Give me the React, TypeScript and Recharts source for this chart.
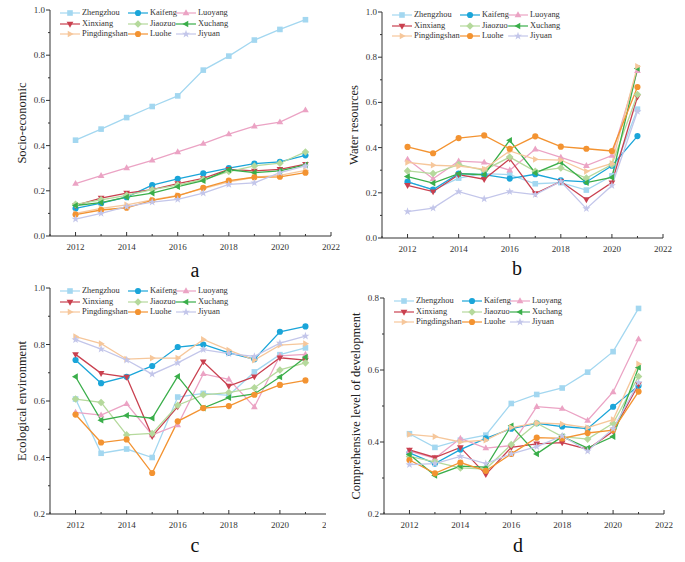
import React from 'react';
import { LineChart, Line, XAxis, YAxis } from 'recharts';

const years = [2012, 2013, 2014, 2015, 2016, 2017, 2018, 2019, 2020, 2021];
const cities = ['Zhengzhou', 'Kaifeng', 'Luoyang', 'Xinxiang', 'Jiaozuo', 'Xuchang', 'Pingdingshan', 'Luohe', 'Jiyuan'];
const cityColors = ['#a3d7f0', '#1aa5d9', '#eba3c4', '#c9404f', '#b5d99c', '#3aae4a', '#f6c79b', '#f39331', '#c3c6ea'];
const cityShapes = ['square', 'circle', 'triangle', 'triangleDown', 'diamond', 'triangleLeft', 'triangleRight', 'circle', 'star'];

const xTicks = [2011, 2012, 2013, 2014, 2015, 2016, 2017, 2018, 2019, 2020, 2021, 2022];
const yTicksFull = [0, 0.1, 0.2, 0.3, 0.4, 0.5, 0.6, 0.7, 0.8, 0.9, 1.0];
const yTicksEco = [0.2, 0.3, 0.4, 0.5, 0.6, 0.7, 0.8, 0.9, 1.0];
const yTicksComp = [0.2, 0.3, 0.4, 0.5, 0.6, 0.7, 0.8];

// rows follow the order of `cities`
const socioEconomic = [
  [0.424, 0.473, 0.524, 0.573, 0.620, 0.734, 0.796, 0.867, 0.914, 0.957],
  [0.122, 0.145, 0.172, 0.225, 0.253, 0.277, 0.300, 0.320, 0.328, 0.357],
  [0.232, 0.267, 0.301, 0.335, 0.372, 0.409, 0.451, 0.486, 0.504, 0.557],
  [0.135, 0.168, 0.190, 0.205, 0.232, 0.255, 0.295, 0.288, 0.295, 0.318],
  [0.140, 0.160, 0.180, 0.205, 0.225, 0.250, 0.285, 0.310, 0.322, 0.372],
  [0.135, 0.148, 0.172, 0.190, 0.218, 0.245, 0.293, 0.280, 0.288, 0.315],
  [0.100, 0.122, 0.138, 0.160, 0.180, 0.210, 0.240, 0.260, 0.268, 0.290],
  [0.095, 0.115, 0.125, 0.158, 0.178, 0.213, 0.245, 0.260, 0.262, 0.280],
  [0.075, 0.100, 0.130, 0.150, 0.162, 0.190, 0.228, 0.235, 0.280, 0.310],
];

const waterResources = [
  [0.250, 0.212, 0.265, 0.285, 0.280, 0.240, 0.245, 0.212, 0.275, 0.570],
  [0.248, 0.214, 0.285, 0.280, 0.263, 0.282, 0.255, 0.248, 0.320, 0.451],
  [0.348, 0.262, 0.340, 0.335, 0.300, 0.393, 0.357, 0.320, 0.365, 0.740],
  [0.233, 0.205, 0.280, 0.260, 0.350, 0.197, 0.250, 0.170, 0.245, 0.625],
  [0.297, 0.285, 0.325, 0.300, 0.358, 0.295, 0.310, 0.265, 0.325, 0.635],
  [0.272, 0.243, 0.285, 0.280, 0.432, 0.288, 0.335, 0.245, 0.268, 0.750],
  [0.335, 0.322, 0.318, 0.305, 0.385, 0.348, 0.345, 0.295, 0.330, 0.760],
  [0.403, 0.375, 0.442, 0.454, 0.395, 0.450, 0.404, 0.395, 0.385, 0.668],
  [0.117, 0.132, 0.205, 0.173, 0.205, 0.192, 0.250, 0.130, 0.232, 0.560],
];

const ecologicalEnvironment = [
  [0.607, 0.415, 0.430, 0.400, 0.614, 0.627, 0.620, 0.703, 0.764, 0.788],
  [0.745, 0.663, 0.686, 0.724, 0.791, 0.800, 0.770, 0.748, 0.845, 0.864],
  [0.560, 0.550, 0.590, 0.480, 0.515, 0.696, 0.677, 0.579, 0.760, 0.765],
  [0.765, 0.698, 0.685, 0.475, 0.580, 0.739, 0.653, 0.686, 0.753, 0.745],
  [0.607, 0.595, 0.480, 0.485, 0.585, 0.622, 0.630, 0.647, 0.710, 0.735],
  [0.686, 0.532, 0.549, 0.539, 0.687, 0.575, 0.612, 0.625, 0.685, 0.755],
  [0.828, 0.803, 0.748, 0.752, 0.752, 0.818, 0.780, 0.745, 0.798, 0.803],
  [0.552, 0.453, 0.464, 0.345, 0.528, 0.575, 0.582, 0.622, 0.657, 0.673],
  [0.817, 0.784, 0.745, 0.695, 0.735, 0.782, 0.768, 0.758, 0.805, 0.830],
];

const comprehensiveLevel = [
  [0.423, 0.385, 0.405, 0.419, 0.507, 0.532, 0.550, 0.594, 0.651, 0.771],
  [0.370, 0.340, 0.379, 0.410, 0.437, 0.452, 0.443, 0.437, 0.498, 0.556],
  [0.375, 0.355, 0.410, 0.383, 0.390, 0.498, 0.493, 0.460, 0.539, 0.686],
  [0.378, 0.357, 0.385, 0.310, 0.385, 0.395, 0.398, 0.380, 0.430, 0.560],
  [0.360, 0.345, 0.328, 0.325, 0.393, 0.452, 0.415, 0.408, 0.452, 0.582],
  [0.365, 0.307, 0.333, 0.330, 0.445, 0.367, 0.415, 0.383, 0.415, 0.607],
  [0.421, 0.415, 0.400, 0.405, 0.440, 0.453, 0.450, 0.440, 0.462, 0.617],
  [0.350, 0.313, 0.343, 0.320, 0.367, 0.412, 0.410, 0.425, 0.433, 0.540],
  [0.337, 0.340, 0.360, 0.340, 0.367, 0.387, 0.417, 0.375, 0.437, 0.565],
];

const FONT = '"Liberation Serif", "Times New Roman", serif';
const AXIS = '#333';

function Marker({ shape, cx, cy, color, s = 2.8 }: any) {
  if (cx == null || cy == null) return null;
  const pts = (arr: number[][]) => arr.map(([dx, dy]) => `${cx + dx * s},${cy + dy * s}`).join(' ');
  switch (shape) {
    case 'square':
      return <rect x={cx - s} y={cy - s} width={2 * s} height={2 * s} fill={color} />;
    case 'circle':
      return <circle cx={cx} cy={cy} r={s * 1.1} fill={color} />;
    case 'triangle':
      return <polygon points={pts([[0, -1.3], [1.2, 0.8], [-1.2, 0.8]])} fill={color} />;
    case 'triangleDown':
      return <polygon points={pts([[0, 1.3], [1.2, -0.8], [-1.2, -0.8]])} fill={color} />;
    case 'diamond':
      return <polygon points={pts([[0, -1.35], [1.35, 0], [0, 1.35], [-1.35, 0]])} fill={color} />;
    case 'triangleLeft':
      return <polygon points={pts([[-1.3, 0], [0.8, -1.2], [0.8, 1.2]])} fill={color} />;
    case 'triangleRight':
      return <polygon points={pts([[1.3, 0], [-0.8, -1.2], [-0.8, 1.2]])} fill={color} />;
    case 'star': {
      const p: number[][] = [];
      for (let i = 0; i < 10; i++) {
        const r = i % 2 === 0 ? 1.5 : 0.6;
        const a = -Math.PI / 2 + (i * Math.PI) / 5;
        p.push([r * Math.cos(a), r * Math.sin(a)]);
      }
      return <polygon points={pts(p)} fill={color} />;
    }
    default:
      return null;
  }
}

const XTick = ({ x, y, payload }: any) => {
  const v = payload.value;
  const major = v % 2 === 0;
  return (
    <g>
      <line x1={x} x2={x} y1={y} y2={y - (major ? 4 : 2)} stroke={AXIS} />
      {major && (
        <text x={x} y={y + 14} textAnchor="middle" fontSize={9} fill={AXIS} fontFamily={FONT}>
          {v}
        </text>
      )}
    </g>
  );
};

const YTick = ({ x, y, payload }: any) => {
  const v = payload.value;
  const major = Math.round(v * 10) % 2 === 0;
  return (
    <g>
      <line x1={x} x2={x - (major ? 4 : 2)} y1={y} y2={y} stroke={AXIS} />
      {major && (
        <text x={x - 5} y={y + 3} textAnchor="end" fontSize={9} fill={AXIS} fontFamily={FONT}>
          {v.toFixed(1)}
        </text>
      )}
    </g>
  );
};

function CityLegend({ left, top }: { left: number; top: number }) {
  const cols = [10, 78, 126];
  return (
    <div style={{ position: 'absolute', left, top, pointerEvents: 'none' }}>
      {cities.map((c, i) => {
        const col = i % 3;
        const row = Math.floor(i / 3);
        return (
          <div
            key={c}
            style={{
              position: 'absolute',
              left: cols[col],
              top: row * 10.5 - 5,
              height: 10,
              display: 'flex',
              alignItems: 'center',
              whiteSpace: 'nowrap',
            }}
          >
            <svg width={20} height={10} style={{ display: 'block' }}>
              <line x1={0} x2={20} y1={5} y2={5} stroke={cityColors[i]} strokeWidth={1.2} />
              <Marker shape={cityShapes[i]} cx={10} cy={5} color={cityColors[i]} />
            </svg>
            <span style={{ fontSize: 8.4, color: '#333', fontFamily: FONT, marginLeft: 2, lineHeight: '10px' }}>{c}</span>
          </div>
        );
      })}
    </div>
  );
}

function Panel({ left, top, width, height, clipWidth, margin, domain, yTicks, yLabel, values }: any) {
  const rows = years.map((yr, i) => {
    const r: any = { year: yr };
    cities.forEach((c, k) => {
      r[c] = values[k][i];
    });
    return r;
  });
  return (
    <div style={{ position: 'absolute', left, top, width: clipWidth ?? width, height, overflow: 'hidden' }}>
      <LineChart width={width} height={height} data={rows} margin={{ ...margin, left: 0 }}>
        <XAxis
          dataKey="year"
          type="number"
          domain={[2011, 2022]}
          ticks={xTicks}
          interval={0}
          height={22}
          tickSize={0}
          tickMargin={0}
          tickLine={false}
          tick={<XTick />}
          axisLine={{ stroke: AXIS }}
        />
        <YAxis
          type="number"
          domain={domain}
          ticks={yTicks}
          interval={0}
          width={50}
          tickSize={0}
          tickMargin={0}
          tickLine={false}
          tick={<YTick />}
          axisLine={{ stroke: AXIS }}
          label={{
            content: ({ viewBox }: any) => {
              const cx = viewBox.x + 22;
              const cy = viewBox.y + viewBox.height / 2;
              return (
                <text
                  x={cx}
                  y={cy}
                  transform={`rotate(-90 ${cx} ${cy})`}
                  textAnchor="middle"
                  dominantBaseline="central"
                  fontSize={12.5}
                  fill="#222"
                  fontFamily={FONT}
                >
                  {yLabel}
                </text>
              );
            },
          }}
        />
        {cities.map((c, k) => (
          <Line
            key={c}
            dataKey={c}
            stroke={cityColors[k]}
            strokeWidth={1.3}
            isAnimationActive={false}
            dot={(p: any) => (
              <Marker key={`${c}-${p.index}`} shape={cityShapes[k]} cx={p.cx} cy={p.cy} color={cityColors[k]} />
            )}
            activeDot={false}
          />
        ))}
      </LineChart>
      <CityLegend left={50} top={margin.top + 3} />
    </div>
  );
}

function Letter({ x, y, text }: { x: number; y: number; text: string }) {
  return (
    <div
      style={{
        position: 'absolute',
        left: x - 20,
        top: y - 13,
        width: 40,
        height: 26,
        lineHeight: '26px',
        textAlign: 'center',
        fontSize: 20,
        fontFamily: FONT,
        color: '#111',
      }}
    >
      {text}
    </div>
  );
}

export default function App() {
  return (
    <div style={{ position: 'absolute', left: 0, top: 0, width: 685, height: 562, background: '#fff', overflow: 'hidden' }}>
      <Panel
        left={0}
        top={0}
        width={342}
        height={262}
        margin={{ top: 10, right: 11, bottom: 4 }}
        domain={[0, 1]}
        yTicks={yTicksFull}
        yLabel="Socio-economic"
        values={socioEconomic}
      />
      <Panel
        left={332}
        top={0}
        width={345}
        height={264}
        margin={{ top: 12, right: 14, bottom: 4 }}
        domain={[0, 1]}
        yTicks={yTicksFull}
        yLabel="Water resources"
        values={waterResources}
      />
      <Panel
        left={0}
        top={278}
        width={342}
        height={262}
        clipWidth={326}
        margin={{ top: 10, right: 11, bottom: 4 }}
        domain={[0.2, 1]}
        yTicks={yTicksEco}
        yLabel="Ecological environment"
        values={ecologicalEnvironment}
      />
      <Panel
        left={334}
        top={288}
        width={345}
        height={252}
        margin={{ top: 10, right: 15, bottom: 4 }}
        domain={[0.2, 0.8]}
        yTicks={yTicksComp}
        yLabel="Comprehensive level of development"
        values={comprehensiveLevel}
      />
      <Letter x={195} y={270} text="a" />
      <Letter x={517} y={268} text="b" />
      <Letter x={195} y={545} text="c" />
      <Letter x={518} y={545} text="d" />
    </div>
  );
}
